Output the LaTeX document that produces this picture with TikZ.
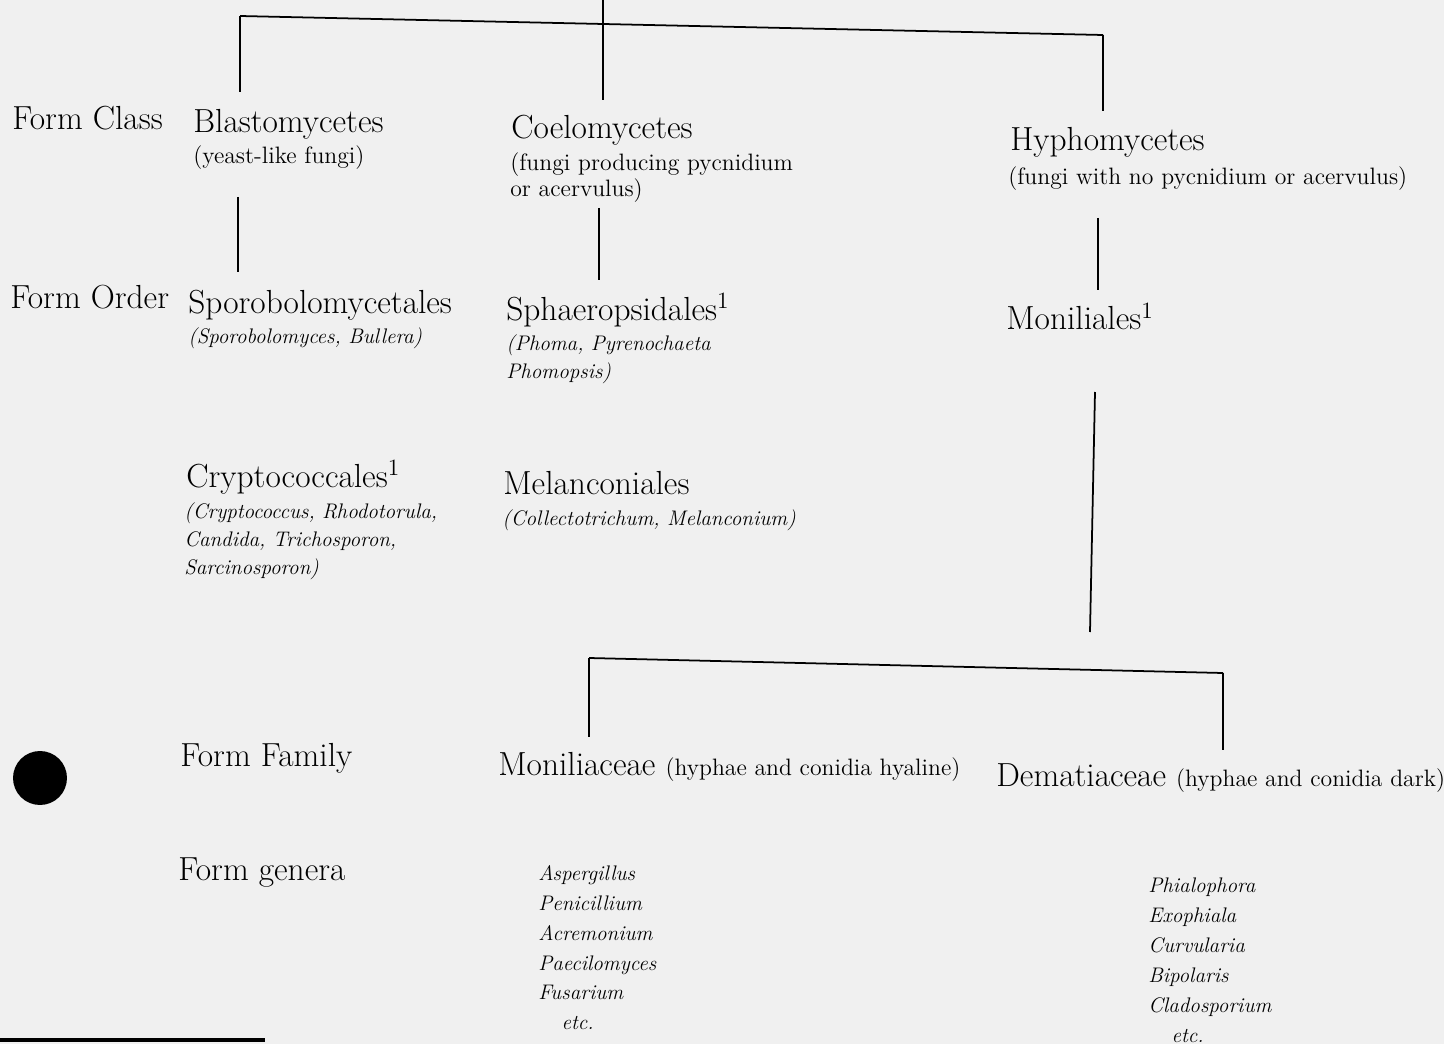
\documentclass[tikz,border=0pt]{standalone}
\usetikzlibrary{positioning}
\tikzstyle{rank}=[inner sep=0pt,anchor=base west,font=\fontsize{19}{23}\selectfont]
\tikzstyle{taxon}=[rank]
\tikzstyle{note}=[inner sep=0pt,anchor=north west,align=left,font=\fontsize{13.5}{15}\selectfont]
\tikzstyle{genera note}=[note,font=\fontsize{12}{16}\selectfont\itshape]
\tikzstyle{genus list}=[note,font=\fontsize{12}{17}\selectfont\itshape]
\tikzstyle{branch}=[line width=1pt]
\newcommand{\paren}[1]{{\fontsize{13.5}{15}\selectfont #1}}
\colorlet{paper}{black!6}

\begin{document}
\begin{tikzpicture}[x=0.02cm,y=-0.02cm]

\useasboundingbox (0,0) rectangle (1444,1044) ;
\fill [paper] (0,0) rectangle (1444,1044) ;

% rank labels
\node (fclass) [rank] at (12,130) {Form Class} ;
\node (forder) [rank] at (10,309) {Form Order} ;
\node (ffamily) [rank] at (180,766) {Form Family} ;
\node (fgenera) [rank] at (178,880) {Form genera} ;

% form classes
\node (blasto) [taxon] at (193,133) {Blastomycetes} ;
\node (blastoN) [note] at (193,145) {(yeast-like fungi)} ;
\node (coelo) [taxon] at (511,139) {Coelomycetes} ;
\node (coeloN) [note] at (510,152) {(fungi producing pycnidium\\or acervulus)} ;
\node (hypho) [taxon] at (1010,151) {Hyphomycetes} ;
\node (hyphoN) [note] at (1008,166) {(fungi with no pycnidium or acervulus)} ;

% form orders
\node (sporo) [taxon] at (188,314) {Sporobolomycetales} ;
\node (sporoN) [genera note] at (188,327) {(Sporobolomyces, Bullera)} ;
\node (sphaero) [taxon] at (506,320) {Sphaeropsidales\textsuperscript{1}} ;
\node (sphaeroN) [genera note] at (506,334) {(Phoma, Pyrenochaeta\\Phomopsis)} ;
\node (monil) [taxon] at (1006,330) {Moniliales\textsuperscript{1}} ;
\node (crypto) [taxon] at (186,487) {Cryptococcales\textsuperscript{1}} ;
\node (cryptoN) [genera note] at (184,502) {(Cryptococcus, Rhodotorula,\\Candida, Trichosporon,\\Sarcinosporon)} ;
\node (melanc) [taxon] at (503,494) {Melanconiales} ;
\node (melancN) [genera note] at (502,509) {(Collectotrichum, Melanconium)} ;

% form families
\node (moniliac) [taxon] at (498,775) {Moniliaceae \paren{(hyphae and conidia hyaline)}} ;
\node (dematiac) [taxon] at (996,786) {Dematiaceae \paren{(hyphae and conidia dark)}} ;

% form genera
\node (moniliacG) [genus list] at (538,865) {Aspergillus\\Penicillium\\Acremonium\\Paecilomyces\\Fusarium\\\hspace*{1.1em}etc.} ;
\node (dematiacG) [genus list] at (1148,878) {Phialophora\\Exophiala\\Curvularia\\Bipolaris\\Cladosporium\\\hspace*{1.1em}etc.} ;

\node (blot) [circle,fill,inner sep=0pt,minimum size=1.08cm] at (40,778) {} ;

% tree
\coordinate (root) at (603,0) ;
\coordinate (barL) at (240,16) ;
\coordinate (barR) at (1103,35) ;
\coordinate (blastoTop) at (240,92) ;
\coordinate (coeloTop) at (603,100) ;
\coordinate (hyphoTop) at (1103,111) ;
\coordinate (blastoBot) at (238,197) ;
\coordinate (sporoTop) at (238,272) ;
\coordinate (coeloBot) at (599,208) ;
\coordinate (sphaeroTop) at (599,280) ;
\coordinate (hyphoBot) at (1098,218) ;
\coordinate (monilTop) at (1098,290) ;
\coordinate (monilBot) at (1095,392) ;
\coordinate (famJoin) at (1090,632) ;
\coordinate (famL) at (589,658) ;
\coordinate (famR) at (1223,673) ;
\coordinate (moniliacTop) at (589,737) ;
\coordinate (dematiacTop) at (1223,750) ;

\draw [branch] (barL) -- (barR) ;
\draw [branch] (barL) -- (blastoTop) ;
\draw [branch] (root) -- (coeloTop) ;
\draw [branch] (barR) -- (hyphoTop) ;
\draw [branch] (blastoBot) -- (sporoTop) ;
\draw [branch] (coeloBot) -- (sphaeroTop) ;
\draw [branch] (hyphoBot) -- (monilTop) ;
\draw [branch] (monilBot) -- (famJoin) ;
\draw [branch] (famL) -- (famR) ;
\draw [branch] (famL) -- (moniliacTop) ;
\draw [branch] (famR) -- (dematiacTop) ;

\coordinate (ruleL) at (0,1040) ;
\coordinate (ruleR) at (265,1040) ;
\draw [line width=2pt] (ruleL) -- (ruleR) ;

\end{tikzpicture}
\end{document}
